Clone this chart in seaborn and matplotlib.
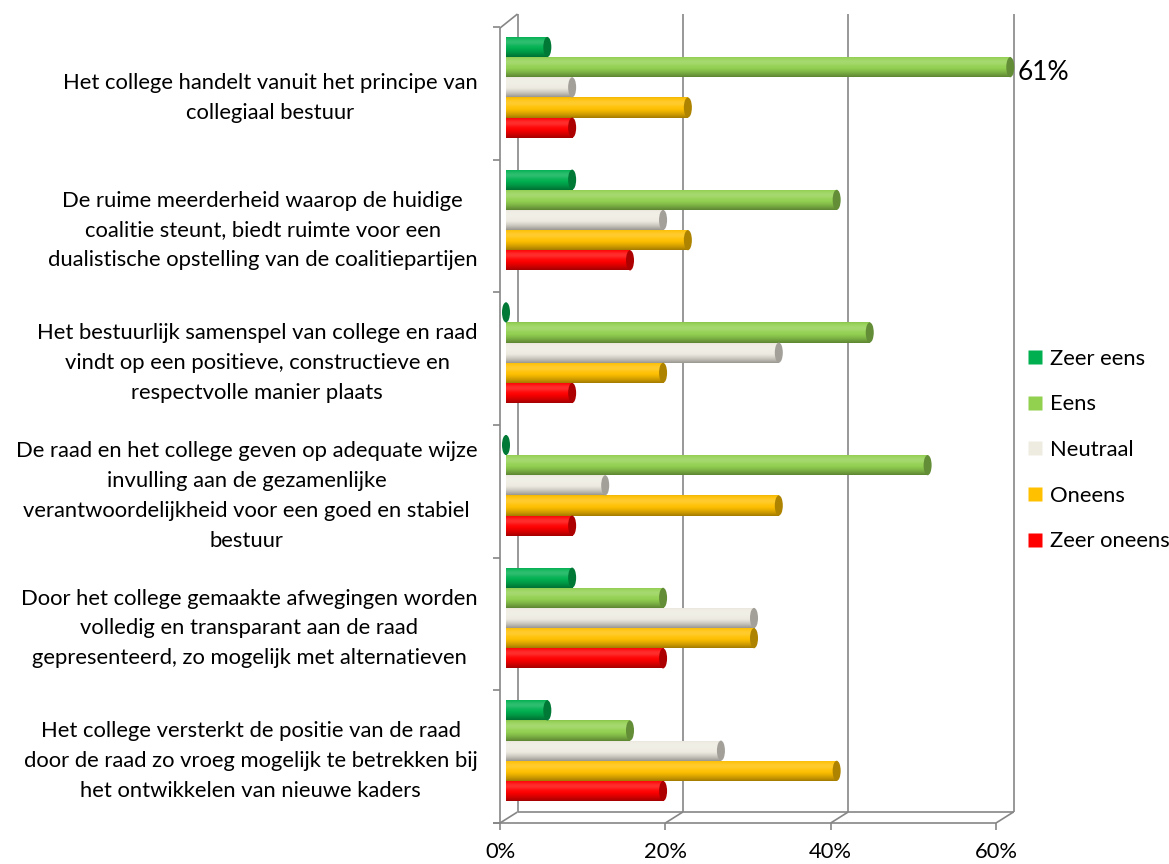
import numpy as np
import pandas as pd
import matplotlib
matplotlib.use("Agg")
import matplotlib.pyplot as plt
import matplotlib.colors as mcolors
from matplotlib.patches import Ellipse
from matplotlib.lines import Line2D
from matplotlib.transforms import ScaledTranslation
import seaborn as sns

# ---- data -------------------------------------------------------------
stellingen = [
    "Het college handelt vanuit het principe van\ncollegiaal bestuur",
    "De ruime meerderheid waarop de huidige\ncoalitie steunt, biedt ruimte voor een\n"
    "dualistische opstelling van de coalitiepartijen",
    "Het bestuurlijk samenspel van college en raad\nvindt op een positieve, constructieve en\n"
    "respectvolle manier plaats",
    "De raad en het college geven op adequate wijze\ninvulling aan de gezamenlijke\n"
    "verantwoordelijkheid voor een goed en stabiel\nbestuur",
    "Door het college gemaakte afwegingen worden\nvolledig en transparant aan de raad\n"
    "gepresenteerd, zo mogelijk met alternatieven",
    "Het college versterkt de positie van de raad\ndoor de raad zo vroeg mogelijk te betrekken bij\n"
    "het ontwikkelen van nieuwe kaders",
]
oordelen = ["Zeer eens", "Eens", "Neutraal", "Oneens", "Zeer oneens"]
zeer_eens = [5, 8, 0, 0, 8, 5]
eens = [61, 40, 44, 51, 19, 15]
neutraal = [8, 19, 33, 12, 30, 26]
oneens = [22, 22, 19, 33, 30, 40]
zeer_oneens = [8, 15, 8, 8, 19, 19]
kleuren = ["#00B050", "#92D050", "#EEECE1", "#FFC000", "#FF0000"]
x_ticks = [0, 20, 40, 60]
x_labels = ["0%", "20%", "40%", "60%"]

reeksen = [zeer_eens, eens, neutraal, oneens, zeer_oneens]
df = pd.DataFrame(
    [(s, o, v) for o, r in zip(oordelen, reeksen) for s, v in zip(stellingen, r)],
    columns=["stelling", "oordeel", "pct"],
)

# ---- figure -----------------------------------------------------------
W, H, DPI = 1169, 864, 100
sns.set_theme(style="white")
plt.rcParams["font.family"] = ["Lato", "DejaVu Sans"]
FS = 15.8

fig = plt.figure(figsize=(W / DPI, H / DPI), dpi=DPI)
fig.patch.set_facecolor("white")

# pixel-space layer for the 3D box outline
frame = fig.add_axes([0, 0, 1, 1], zorder=0)
frame.set_xlim(0, W)
frame.set_ylim(H, 0)
frame.axis("off")

ax_left, ax_right, ax_top, ax_bot = 506, 1002, 21, 817
ax = fig.add_axes([ax_left / W, 1 - ax_bot / H, (ax_right - ax_left) / W, (ax_bot - ax_top) / H],
                  zorder=1)
ax.patch.set_alpha(0)

sns.barplot(data=df, y="stelling", x="pct", hue="oordeel", hue_order=oordelen,
            order=stellingen, palette=kleuren, orient="h", width=0.76,
            saturation=1, legend=False, ax=ax, zorder=2)
ax.set_xlim(0, 60)
ax.set_ylim(5.5, -0.5)


def cylinder_rgb(hex_color, n=80):
    """Vertical shading that gives a flat bar a cylindrical look."""
    base = np.array(mcolors.to_rgb(hex_color))
    t = np.linspace(0, 1, n)[:, None]
    hi = 0.18 * np.exp(-((t - 0.28) / 0.18) ** 2)
    shade = 0.36 * np.clip((t - 0.55) / 0.45, 0, 1) ** 1.3
    edge = 0.06 * np.clip((0.08 - t) / 0.08, 0, 1)
    rgb = base * (1 - shade - edge)
    rgb = rgb + (1 - rgb) * hi
    return np.clip(rgb, 0, 1)[:, None, :].repeat(2, axis=1)


cap_w = 8 / ((ax_right - ax_left) / 60)  # cap width in data units (~8 px)
for kleur, cont in zip(kleuren, ax.containers):
    grad = cylinder_rgb(kleur)
    base = np.array(mcolors.to_rgb(kleur))
    for patch in cont.patches:
        x0, y0 = patch.get_x(), patch.get_y()
        w, h = patch.get_width(), patch.get_height()
        patch.set_clip_on(False)
        patch.set_edgecolor("none")
        if w > 0:
            im = ax.imshow(grad, extent=(x0, x0 + w, y0, y0 + h), origin="lower",
                           aspect="auto", interpolation="bilinear", zorder=2.1)
            im.set_clip_path(patch)
        ax.add_patch(Ellipse((x0 + w, y0 + h / 2), cap_w, h,
                             facecolor=base * 0.68, edgecolor="none",
                             zorder=2.2, clip_on=False))

ax.set_xlim(0, 60)
ax.set_ylim(5.5, -0.5)
ax.set_aspect("auto")

# value label on the longest bar
lab = [f"{v}%" if v == max(eens) else "" for v in eens]
anns = ax.bar_label(ax.containers[1], labels=lab, padding=5.5, fontsize=19, color="#000000")
for a in anns:
    a.set_annotation_clip(False)
    a.set_clip_on(False)
    a.xyann = (5.5, -3.5)

for s in ax.spines.values():
    s.set_visible(False)
ax.grid(False)
ax.set_xlabel("")
ax.set_ylabel("")

# category labels, centred lines, right-aligned block
ax.set_yticks(range(len(stellingen)), stellingen)
ax.tick_params(axis="y", length=0, pad=20.5, labelsize=FS, labelcolor="#000000")
for t in ax.get_yticklabels():
    t.set_multialignment("center")
    t.set_linespacing(1.62)
    t.set_transform(t.get_transform() + ScaledTranslation(0, -0.035, fig.dpi_scale_trans))

ax.set_xticks(x_ticks, x_labels)
ax.tick_params(axis="x", length=0, pad=18, labelsize=FS, labelcolor="#000000")
for t in ax.get_xticklabels():
    t.set_transform(t.get_transform() + ScaledTranslation(-0.06, 0, fig.dpi_scale_trans))

# ---- 3D box outline (front floor edge, back wall, gridlines) ---------
def px(v):
    return ax.transData.transform((v, 0))[0]


FRONT_DX, BACK_DX = -6, 11.5
front_floor, back_floor = ax_bot + 6, ax_bot - 5
front_top, back_top = ax_top + 7, ax_top - 7
lc = dict(color="#868686", lw=1.2, solid_capstyle="butt")

x0f, x0b = px(0) + FRONT_DX, px(0) + BACK_DX
frame.add_line(Line2D([x0f, x0f], [front_top, front_floor], **lc))
frame.add_line(Line2D([x0f, x0b], [front_top, back_top], **lc))
frame.add_line(Line2D([x0f - 7, px(60) + FRONT_DX], [front_floor, front_floor], **lc))
frame.add_line(Line2D([x0b, px(60) + BACK_DX], [back_floor, back_floor], **lc))
for v in x_ticks:
    xf, xb = px(v) + FRONT_DX, px(v) + BACK_DX
    frame.add_line(Line2D([xb, xb], [back_top, back_floor], **lc))
    frame.add_line(Line2D([xf, xb], [front_floor, back_floor], **lc))
    frame.add_line(Line2D([xf, xf], [front_floor, front_floor + 7], **lc))
for b in np.arange(-0.5, len(stellingen), 1.0):
    yb = H - ax.transData.transform((0, b))[1] + 6
    frame.add_line(Line2D([x0f - 7, x0f], [yb, yb], **lc))

# ---- legend ---------------------------------------------------------------
handles = [Line2D([], [], marker="s", linestyle="", markersize=10,
                  markerfacecolor=k, markeredgecolor="none") for k in kleuren]
fig.legend(handles, oordelen, loc="center left", bbox_to_anchor=(1026 / W, 1 - 450 / H),
           frameon=False, fontsize=FS, labelspacing=1.17, handlelength=0.8,
           handletextpad=0.3, borderpad=0, borderaxespad=0, labelcolor="#000000")

fig.savefig("out.png", dpi=DPI, facecolor="white")
